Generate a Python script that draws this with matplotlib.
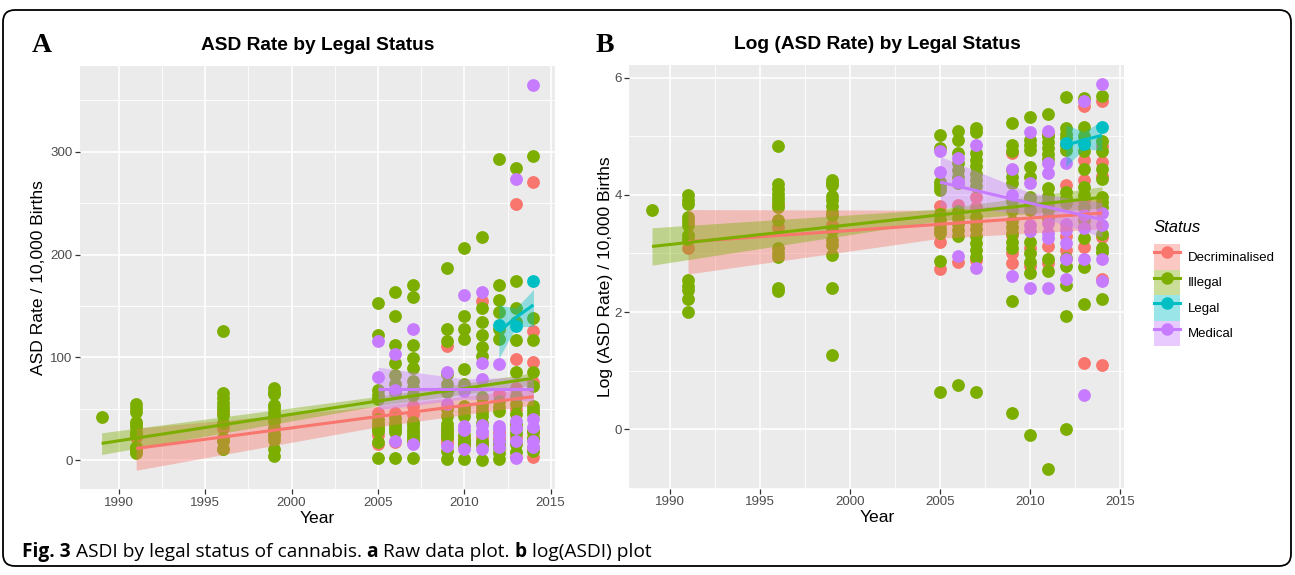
import numpy as np
import matplotlib.pyplot as plt
from matplotlib.patches import FancyBboxPatch, Patch
from matplotlib.lines import Line2D
from matplotlib.transforms import IdentityTransform

plt.rcParams['font.family'] = ['Liberation Sans', 'DejaVu Sans']

statuses = ['Decriminalised', 'Illegal', 'Legal', 'Medical']
colours = ['#F8766D', '#7CAE00', '#00BFC4', '#C77CFF']

# log(ASD rate) per year (panel A is exp of these)
dec_log = {
    1991: [3.1],
    1996: [3.45, 3.83],
    1999: [3.48],
    2005: [3.82, 3.2, 2.74],
    2006: [3.83, 2.85],
    2007: [3.97, 3.8, 2.89],
    2009: [4.71, 3.32, 3.0, 2.84],
    2010: [3.95, 3.09, 2.78],
    2011: [5.04, 3.9, 3.12, 2.84],
    2012: [4.17, 3.3, 3.06],
    2013: [5.52, 4.59, 4.25, 3.9, 3.11, 1.13],
    2014: [5.6, 4.83, 4.56, 4.33, 3.28, 2.57, 1.1],
}
ill_log = {
    1989: [3.74],
    1991: [4.0, 3.92, 3.85, 3.62, 3.55, 3.48, 3.32, 3.25, 2.55, 2.45, 2.38, 2.22, 2.0],
    1996: [4.83, 4.18, 4.1, 4.02, 3.95, 3.88, 3.79, 3.58, 3.09, 3.0, 2.94, 2.41, 2.36],
    1999: [4.25, 4.2, 4.17, 3.98, 3.92, 3.82, 3.71, 3.65, 3.4, 3.23, 3.14, 2.97, 2.41, 1.27],
    2005: [5.03, 4.8, 4.22, 4.15, 4.08, 3.68, 3.58, 3.5, 3.42, 3.35, 2.88, 0.63],
    2006: [5.1, 4.94, 4.72, 4.55, 4.42, 4.3, 4.2, 3.72, 3.6, 3.5, 3.4, 3.3, 0.75],
    2007: [5.14, 5.07, 4.72, 4.6, 4.5, 4.35, 4.25, 4.15, 3.62, 3.52, 3.42, 3.3, 3.18, 3.06, 2.94, 0.63],
    2009: [5.23, 4.85, 4.75, 4.43, 4.3, 4.2, 3.9, 3.75, 3.55, 3.45, 3.35, 3.2, 3.1, 2.19, 0.27],
    2010: [5.33, 4.94, 4.85, 4.77, 4.48, 4.31, 3.97, 3.86, 3.75, 3.19, 3.0, 2.85, 2.66, -0.11],
    2011: [5.38, 5.0, 4.9, 4.8, 4.7, 4.62, 4.12, 3.98, 3.85, 3.75, 3.6, 2.9, 2.7, -0.69],
    2012: [5.68, 5.14, 5.05, 4.97, 4.85, 4.77, 4.05, 3.95, 3.86, 2.92, 2.78, 2.47, 1.93, 0.0],
    2013: [5.65, 5.16, 5.0, 4.9, 4.76, 4.45, 4.14, 4.0, 3.8, 3.57, 3.45, 3.26, 2.77, 2.13],
    2014: [5.69, 4.93, 4.76, 4.45, 4.28, 3.97, 3.88, 3.8, 3.34, 3.09, 3.03, 2.22],
}
leg_log = {2012: [4.88], 2013: [4.87], 2014: [5.16]}
med_log = {
    2005: [4.75, 4.39],
    2006: [4.64, 4.22, 2.95],
    2007: [4.85, 2.76],
    2009: [4.45, 4.0, 2.62],
    2010: [5.08, 4.21, 3.49, 3.38, 2.41],
    2011: [5.1, 4.55, 4.37, 3.52, 3.35, 3.26, 2.41],
    2012: [4.54, 3.5, 3.4, 3.18, 2.9, 2.56],
    2013: [5.61, 3.65, 3.43, 2.91, 0.59],
    2014: [5.9, 3.69, 3.48, 2.91, 2.53],
}

# lm fits with 95% bands (years, fit, lower, upper)
dec_fit_year = [1991, 2005, 2014]
dec_fit_raw, dec_lo_raw, dec_hi_raw = [11.4, 42.5, 61.8], [-9.8, 32.5, 53.7], [31.0, 52.5, 70.0]
dec_fit_log, dec_lo_log, dec_hi_log = [3.2, 3.5, 3.69], [2.65, 3.26, 3.42], [3.75, 3.74, 3.94]

ill_fit_year = [1989, 2005, 2014]
ill_fit_raw, ill_lo_raw, ill_hi_raw = [16.3, 57.5, 79.7], [5.5, 53.0, 73.0], [26.6, 62.0, 85.0]
ill_fit_log, ill_lo_log, ill_hi_log = [3.12, 3.66, 3.96], [2.80, 3.56, 3.78], [3.44, 3.76, 4.14]

leg_fit_year = [2012, 2013, 2014]
leg_fit_raw, leg_lo_raw, leg_hi_raw = [125.0, 139.0, 151.0], [99.0, 130.0, 130.0], [151.0, 148.0, 166.0]
leg_fit_log, leg_lo_log, leg_hi_log = [4.85, 4.94, 5.02], [4.48, 4.79, 4.76], [5.2, 5.08, 5.27]

med_fit_year = [2005, 2010, 2014]
med_fit_raw, med_lo_raw, med_hi_raw = [69.3, 69.3, 69.3], [48.8, 59.5, 57.5], [90.4, 79.0, 81.0]
med_fit_log, med_lo_log, med_hi_log = [4.22, 3.86, 3.58], [3.80, 3.68, 3.28], [4.66, 4.04, 3.87]

points = [dec_log, ill_log, leg_log, med_log]
fit_years = [dec_fit_year, ill_fit_year, leg_fit_year, med_fit_year]
fits_raw = [(dec_fit_raw, dec_lo_raw, dec_hi_raw), (ill_fit_raw, ill_lo_raw, ill_hi_raw),
            (leg_fit_raw, leg_lo_raw, leg_hi_raw), (med_fit_raw, med_lo_raw, med_hi_raw)]
fits_log = [(dec_fit_log, dec_lo_log, dec_hi_log), (ill_fit_log, ill_lo_log, ill_hi_log),
            (leg_fit_log, leg_lo_log, leg_hi_log), (med_fit_log, med_lo_log, med_hi_log)]


def flat(d):
    xs, ys = [], []
    for yr, vals in d.items():
        xs += [yr] * len(vals)
        ys += vals
    return np.array(xs, float), np.array(ys, float)


fig = plt.figure(figsize=(12.95, 5.75), dpi=100)
axA = fig.add_axes([0.0618, 0.1487, 0.3668, 0.7372])
axB = fig.add_axes([0.4861, 0.1501, 0.3822, 0.7377])

draw_order = [0, 1, 3, 2]


def panel(ax, fits, use_log):
    allx, ally = [], []
    for i in draw_order:
        x, y = flat(points[i])
        if not use_log:
            y = np.exp(y)
        ax.scatter(x, y, s=85, color=colours[i], linewidths=0, zorder=3)
        allx += list(x)
        ally += list(y)
    for i in range(4):
        f, lo, hi = fits[i]
        ax.fill_between(fit_years[i], lo, hi, color=colours[i], alpha=0.4, lw=0, zorder=4)
        ally += lo + hi
    for i in range(4):
        ax.plot(fit_years[i], fits[i][0], color=colours[i], lw=2.2, zorder=5,
                solid_capstyle='butt')
    x0, x1 = min(allx), max(allx)
    y0, y1 = min(ally), max(ally)
    ax.set_xlim(x0 - 0.05 * (x1 - x0), x1 + 0.05 * (x1 - x0))
    ax.set_ylim(y0 - 0.05 * (y1 - y0), y1 + 0.05 * (y1 - y0))

    ax.set_facecolor('#EBEBEB')
    for s in ax.spines.values():
        s.set_visible(False)
    ax.set_xticks([1990, 1995, 2000, 2005, 2010, 2015])
    ax.set_xticks([1992.5, 1997.5, 2002.5, 2007.5, 2012.5], minor=True)
    ax.grid(which='major', color='white', lw=1.2)
    ax.grid(which='minor', color='white', lw=0.6)
    ax.set_axisbelow(True)
    ax.tick_params(which='major', length=3.5, width=0.9, color='#333333',
                   labelcolor='#4D4D4D', labelsize=9.6, pad=2)
    ax.tick_params(which='minor', length=0)
    ax.set_xlabel('Year', fontsize=12.6, labelpad=1)


panel(axA, fits_raw, False)
axA.set_yticks([0, 100, 200, 300])
axA.set_yticks([50, 150, 250, 350], minor=True)
axA.set_ylabel('ASD Rate / 10,000 Births', fontsize=12.6, labelpad=3)
axA.set_title('ASD Rate by Legal Status', fontsize=13.8, fontweight='bold', pad=11)

panel(axB, fits_log, True)
axB.set_yticks([0, 2, 4, 6])
axB.set_yticks([-1, 1, 3, 5], minor=True)
axB.set_ylabel('Log (ASD Rate) / 10,000 Births', fontsize=12.6, labelpad=1)
axB.set_title('Log (ASD Rate) by Legal Status', fontsize=13.8, fontweight='bold', pad=11)

# panel letters
fig.text(42 / 1295, 1 - 45 / 575, 'A', fontsize=20, fontweight='bold',
         family='Liberation Serif', ha='center', va='center')
fig.text(605 / 1295, 1 - 45 / 575, 'B', fontsize=20, fontweight='bold',
         family='Liberation Serif', ha='center', va='center')

# legend
fig.text(1154 / 1295, 1 - 228 / 575, 'Status', fontsize=12, style='italic',
         ha='left', va='center')
handles = [(Patch(facecolor=c, alpha=0.4, edgecolor='none'),
            Line2D([], [], color=c, lw=2.2, marker='o', markersize=9, markeredgewidth=0))
           for c in colours]
leg = fig.legend(handles, statuses, loc='upper left',
                 bbox_to_anchor=(1154 / 1295, 1 - 244 / 575), frameon=False,
                 fontsize=9.5, handlelength=1.97, handleheight=2.6, labelspacing=0.0,
                 handletextpad=0.6, borderpad=0, borderaxespad=0)

# caption with bold pieces
renderer = fig.canvas.get_renderer()
pieces = [('Fig. 3', 'bold'), (' ASDI by legal status of cannabis. ', 'normal'), ('a', 'bold'),
          (' Raw data plot. ', 'normal'), ('b', 'bold'), (' log(ASDI) plot', 'normal')]
xpos = 22
for txt, w in pieces:
    t = fig.text(xpos / 1295, 1 - 557 / 575, txt, fontsize=13.8, fontweight=w,
                 family=['Open Sans', 'DejaVu Sans'], va='baseline', ha='left')
    xpos = t.get_window_extent(renderer).x1

# rounded frame
fig.add_artist(FancyBboxPatch((3, 9), 1288, 556, boxstyle='round,pad=0,rounding_size=12',
                              transform=IdentityTransform(), fill=False, ec='black', lw=1.3))

fig.savefig('out.png', dpi=100)
